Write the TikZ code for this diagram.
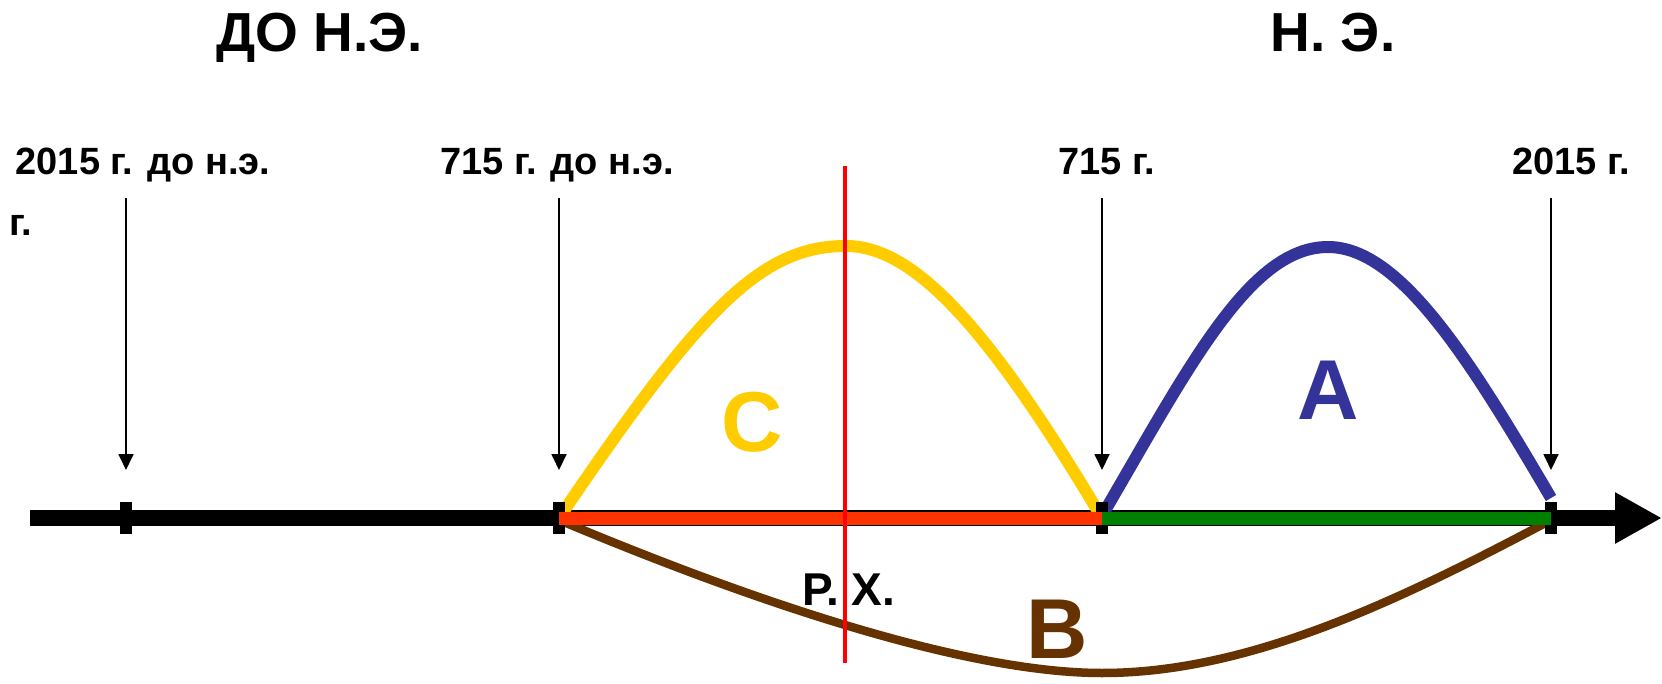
\documentclass[tikz,border=0pt]{standalone}
\usepackage{fontspec}
\setmainfont{Liberation Sans}
\usetikzlibrary{arrows.meta}
\definecolor{cyel}{HTML}{FFCC00}
\definecolor{cblue}{HTML}{333399}
\definecolor{cbrown}{HTML}{663300}
\definecolor{cred}{HTML}{FF0000}
\definecolor{cseg}{HTML}{FF3300}
\definecolor{cgreen}{HTML}{008000}
\tikzset{
  lbl/.style={inner sep=0pt, anchor=base, font=\bfseries\fontsize{38}{42}\selectfont},
  ttl/.style={inner sep=0pt, anchor=base, font=\bfseries\fontsize{55}{60}\selectfont},
  big/.style={inner sep=0pt, anchor=base, font=\bfseries\fontsize{85}{90}\selectfont},
  pointer/.style={line width=1.8pt, -{Triangle[width=15pt,length=16pt]}},
  tickmark/.style={fill=black},
  curve/.style={line width=12pt},
}
\begin{document}
\begin{tikzpicture}[x=1pt,y=-1pt]
\useasboundingbox (0,0) rectangle (1662,684);
% coordinates
\coordinate (a0) at (30,518);
\coordinate (a1) at (1662,518);
\coordinate (t1) at (126,518);
\coordinate (t2) at (559,518);
\coordinate (t3) at (1102,518);
\coordinate (t4) at (1551,518);
\coordinate (u1) at (126,198);
\coordinate (u2) at (559,198);
\coordinate (u3) at (1102,198);
\coordinate (u4) at (1551,198);
\coordinate (v1) at (126,470);
\coordinate (v2) at (559,470);
\coordinate (v3) at (1102,470);
\coordinate (v4) at (1551,470);
\coordinate (rx0) at (845,166);
\coordinate (rx1) at (845,663);
\coordinate (cpk) at (846,246);
\coordinate (apk) at (1328,247);
\coordinate (bmn) at (1102,673);
\coordinate (aend) at (1551,498);
\coordinate (bend) at (1551,520);
\coordinate (bstart) at (559,520);
\coordinate (astart) at (1103,514);

% titles
\node[ttl] (tbc) at (320,52) {ДО Н.Э.};
\node[ttl] (tad) at (1333,52) {Н. Э.};
% labels
\node[lbl] (l1) at (143,175) {2015 г. до н.э.};
\node[lbl] (l2) at (557,175) {715 г. до н.э.};
\node[lbl] (l3) at (1107,175) {715 г.};
\node[lbl] (l4) at (1571,175) {2015 г.};
\node[lbl, anchor=base west] (l0) at (9,236) {г.};

% pointers
\draw[pointer] (u1) -- (v1);
\draw[pointer] (u2) -- (v2);
\draw[pointer] (u3) -- (v3);
\draw[pointer] (u4) -- (v4);

% axis
\draw[line width=16pt, -{Triangle[width=48pt,length=47pt]}] (a0) -- (a1);

% curves
\draw[curve, cyel] (t2) .. controls (700,310) and (760,246) .. (cpk)
   .. controls (915,246) and (990,330) .. (t3);
\draw[curve, cblue] (astart) .. controls (1190,365) and (1250,247) .. (apk)
   .. controls (1400,247) and (1470,360) .. (aend);
\draw[line width=8.5pt, cbrown] (bstart) .. controls (740,596) and (960,673) .. (bmn)
   .. controls (1250,673) and (1400,600) .. (bend);

% ticks
\foreach \t in {t1,t2,t3,t4} \fill[tickmark] ([shift={(-6,-16)}]\t) rectangle ([shift={(6,16)}]\t);

% segments
\draw[line width=13pt, cseg] (t2) -- (t3);
\draw[line width=13pt, cgreen] (t3) -- (t4);

% red vertical
\draw[line width=4.5pt, cred] (rx0) -- (rx1);

% letters
\node[big, text=cyel] (lc) at (752,451) {C};
\node[big, text=cblue] (la) at (1328,419) {A};
\node[big, text=cbrown] (lb) at (1057,658) {B};
\node[inner sep=0pt, anchor=base, font=\bfseries\fontsize{46}{50}\selectfont] (rh) at (849,605) {Р. Х.};
\end{tikzpicture}
\end{document}
